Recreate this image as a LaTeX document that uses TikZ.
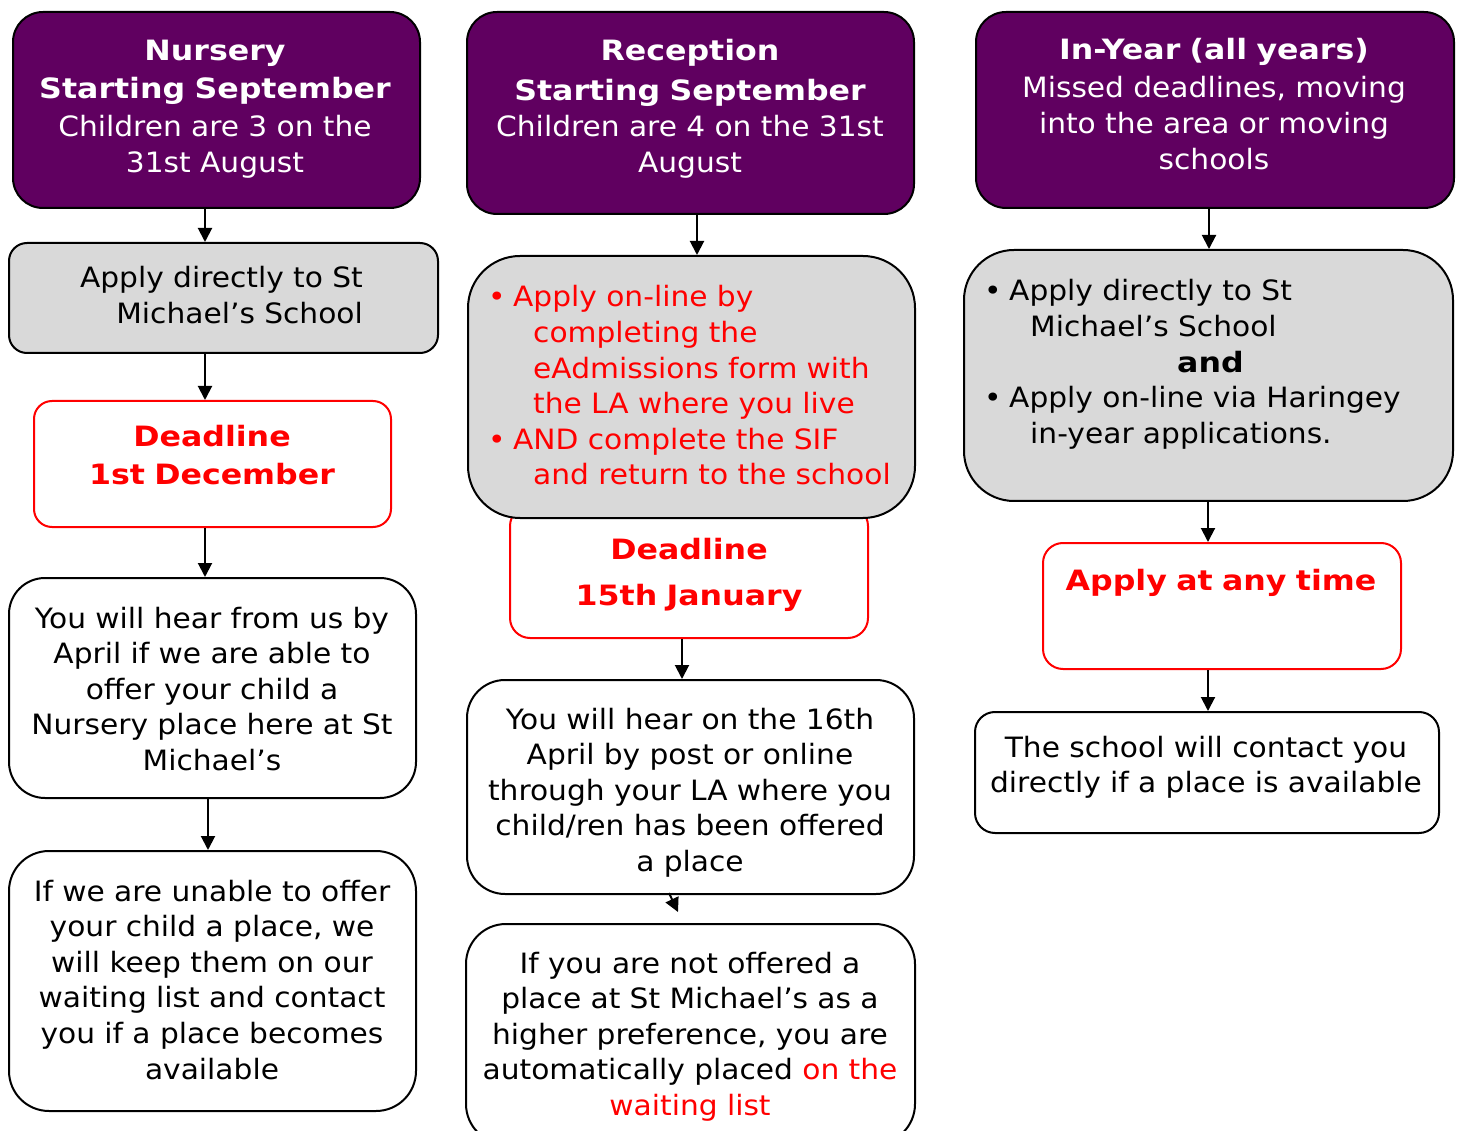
\documentclass[tikz,border=0pt]{standalone}
\usepackage{fontspec}
\setmainfont{DejaVu Sans}[FakeStretch=1.06, BoldFeatures={FakeStretch=1.13}]
\usetikzlibrary{arrows.meta}
\definecolor{purp}{RGB}{96,0,96}
\definecolor{boxgrey}{RGB}{217,217,217}
\definecolor{myred}{RGB}{255,0,0}
\tikzset{
  box/.style={draw=black, line width=2pt, anchor=north west, inner sep=0pt},
  head/.style={box, fill=purp, rounded corners=30pt},
  greybox/.style={box, fill=boxgrey},
  whitebox/.style={box, fill=white},
  redbox/.style={draw=myred, line width=2pt, fill=white, anchor=north west, inner sep=0pt, rounded corners=20pt},
  txt/.style={inner sep=0pt, anchor=base, text width=#1, align=center, font=\fontsize{28}{35.6}\selectfont},
  ltxt/.style={txt=#1, anchor=base west, align=left},
  rtxt/.style={txt=#1, anchor=base east, align=right},
  arr/.style={line width=2pt, -{Triangle[width=14pt,length=14pt]}},
}
\begin{document}
\begin{tikzpicture}[x=1pt, y=-1pt]
\useasboundingbox (0,0) rectangle (1460,1131);
% ---------- column 1 ----------
\node[head, minimum width=407pt, minimum height=196pt] (n1) at (12,11) {};
\node[greybox, rounded corners=18pt, minimum width=429pt, minimum height=110pt] (n2) at (8,242) {};
\node[redbox, rounded corners=18pt, minimum width=357pt, minimum height=126pt] (n3) at (33,400) {};
\node[whitebox, rounded corners=36pt, minimum width=407pt, minimum height=220pt] (n4) at (8,577) {};
\node[whitebox, rounded corners=40pt, minimum width=407pt, minimum height=260pt] (n5) at (8,850) {};
% ---------- column 2 ----------
\node[head, minimum width=447pt, minimum height=202pt] (r1) at (466,11) {};
\node[redbox, rounded corners=20pt, minimum width=358pt, minimum height=132pt] (r3) at (509,505) {};
\node[greybox, rounded corners=52pt, minimum width=447pt, minimum height=262pt] (r2) at (467,255) {};
\node[whitebox, rounded corners=38pt, minimum width=447pt, minimum height=214pt] (r4) at (466,679) {};
\node[whitebox, rounded corners=40pt, minimum width=449pt, minimum height=220pt] (r5) at (465,923) {};
% ---------- column 3 ----------
\node[head, minimum width=478pt, minimum height=196pt] (i1) at (975,11) {};
\node[greybox, rounded corners=50pt, minimum width=489pt, minimum height=251pt] (i2) at (963,249) {};
\node[redbox, rounded corners=20pt, minimum width=358pt, minimum height=126pt] (i3) at (1042,542) {};
\node[whitebox, rounded corners=20pt, minimum width=464pt, minimum height=121pt] (i4) at (974,711) {};
% ---------- texts ----------
\node[txt=420pt, text=white] (n1t) at (215,61) {\textbf{Nursery}\\[2.4pt]\textbf{Starting September}\\[2.4pt]Children are 3 on the\\31st August};
\node[rtxt=420pt] (n2t) at (363,288) {Apply directly to St\\Michael’s School};
\node[txt=400pt, text=myred] (n3t) at (212,447) {\textbf{Deadline}\\[2.4pt]\textbf{1st December}};
\node[txt=400pt] (n4t) at (212,628) {You will hear from us by\\April if we are able to\\offer your child a\\Nursery place here at St\\Michael’s};
\node[txt=400pt] (n5t) at (212,901) {If we are unable to offer\\your child a place, we\\will keep them on our\\waiting list and contact\\you if a place becomes\\available};

\node[txt=440pt, text=white] (r1t) at (690,61) {\textbf{Reception}\\[4.4pt]\textbf{Starting September}\\Children are 4 on the 31st\\August};
\node[ltxt=420pt, text=myred] (r2t) at (488,307) {\makebox[25pt][l]{•}Apply on-line by\\\hspace*{45pt}completing the\\\hspace*{45pt}eAdmissions form with\\\hspace*{45pt}the LA where you live\\\makebox[25pt][l]{•}AND complete the SIF\\\hspace*{45pt}and return to the school};
\node[txt=400pt, text=myred] (r3t) at (689,559) {\textbf{Deadline}\\[10.4pt]\textbf{15th January}};
\node[txt=440pt] (r4t) at (690,729) {You will hear on the 16th\\April by post or online\\through your LA where you\\child/ren has been offered\\a place};
\node[txt=440pt] (r5t) at (690,973) {If you are not offered a\\place at St Michael’s as a\\higher preference, you are\\automatically placed \textcolor{myred}{on the}\\\textcolor{myred}{waiting list}};

\node[txt=470pt, text=white] (i1t) at (1214,60) {\textbf{In-Year (all years)}\\[2.4pt]Missed deadlines, moving\\into the area or moving\\schools};
\node[ltxt=470pt] (i2t) at (984,301) {\makebox[25pt][l]{•}Apply directly to St\\\hspace*{46pt}Michael’s School\\\hspace*{193pt}\textbf{and}\\\makebox[25pt][l]{•}Apply on-line via Haringey\\\hspace*{46pt}in-year applications.};
\node[txt=400pt, text=myred] (i3t) at (1221,590) {\textbf{Apply at any time}};
\node[txt=460pt] (i4t) at (1206,757) {The school will contact you\\directly if a place is available};
% ---------- connectors ----------
\draw[arr] (205,0 |- n1.south) -- (205,0 |- n2.north);
\draw[arr] (205,0 |- n2.south) -- (205,0 |- n3.north);
\draw[arr] (205,0 |- n3.south) -- (205,0 |- n4.north);
\draw[arr] (208,0 |- n4.south) -- (208,0 |- n5.north);
\draw[arr] (697,0 |- r1.south) -- (697,0 |- r2.north);
\draw[arr] (682,0 |- r3.south) -- (682,0 |- r4.north);
\draw[arr] ([xshift=-21.5pt,yshift=2pt]r4.south) -- ([xshift=-12.5pt,yshift=11pt]r5.north);
\draw[arr] (1209,0 |- i1.south) -- (1209,0 |- i2.north);
\draw[arr] (1208,0 |- i2.south) -- (1208,0 |- i3.north);
\draw[arr] (1208,0 |- i3.south) -- (1208,0 |- i4.north);
\end{tikzpicture}
\end{document}
